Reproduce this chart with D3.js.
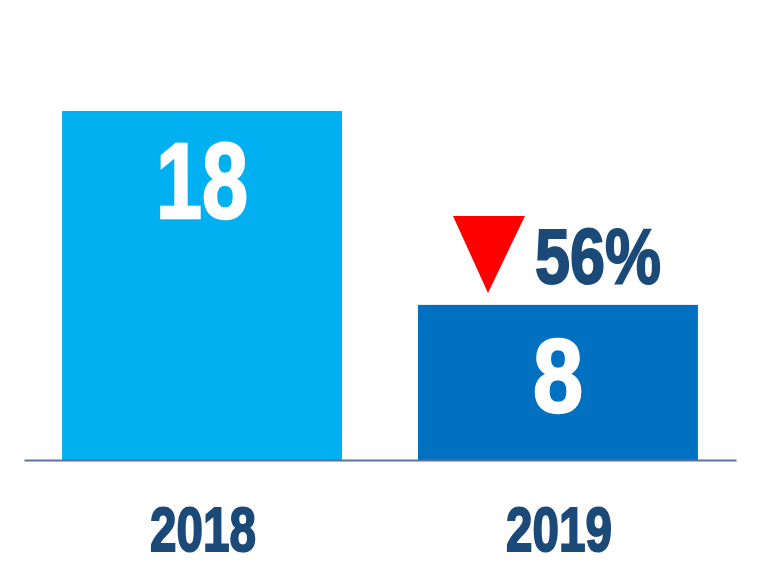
<!DOCTYPE html>
<html><head><meta charset="utf-8">
<script src="https://cdn.jsdelivr.net/npm/d3@7"></script>
<style>html,body{margin:0;padding:0;background:#fff;}svg{display:block;}</style>
</head><body>
<svg id="c" width="768" height="575"></svg>
<script>
const categories = ["2018", "2019"];
const values = [18, 8];
const barColors = ["#00b0f0", "#0070c0"];
const changeLabel = ["56%"];

const svg = d3.select("#c");
const x = d3.scaleBand().domain(categories).range([24, 736]).paddingInner(0.2135).paddingOuter(0.107);
const y = d3.scaleLinear().domain([0, 18]).range([460, 111]);
const font = "'Liberation Sans', Arial, sans-serif";
const navy = "#1b4a78";

svg.selectAll("rect.bar").data(values).enter().append("rect")
  .attr("class", "bar")
  .attr("x", (d, i) => x(categories[i]))
  .attr("width", x.bandwidth())
  .attr("y", d => y(d))
  .attr("height", d => y(0) - y(d))
  .attr("fill", (d, i) => barColors[i]);

// baseline axis
const axis = d3.axisBottom(x).tickSize(0).tickFormat("");
const ax = svg.append("g").attr("transform", `translate(0,${y(0)})`).call(axis);
ax.select(".domain").attr("stroke", "#5b7399").attr("stroke-width", 2);

// value labels
const valSize = [108, 104];
const valLen = [92, 50];
const valTop = [141, 338];
svg.selectAll("text.val").data(values).enter().append("text")
  .attr("class", "val")
  .attr("x", (d, i) => x(categories[i]) + x.bandwidth() / 2)
  .attr("y", (d, i) => valTop[i] + valSize[i] * 0.716)
  .attr("text-anchor", "middle")
  .attr("font-family", font).attr("font-weight", "bold")
  .attr("font-size", (d, i) => valSize[i])
  .attr("textLength", (d, i) => valLen[i]).attr("lengthAdjust", "spacingAndGlyphs")
  .attr("fill", "#fff").attr("stroke", "#fff").attr("stroke-width", 2.5)
  .text(d => d);

// category labels
svg.selectAll("text.cat").data(categories).enter().append("text")
  .attr("class", "cat")
  .attr("x", d => x(d) + x.bandwidth() / 2 + 1)
  .attr("y", 551)
  .attr("text-anchor", "middle")
  .attr("font-family", font).attr("font-weight", "bold")
  .attr("font-size", 63)
  .attr("textLength", 106).attr("lengthAdjust", "spacingAndGlyphs")
  .attr("fill", navy).attr("stroke", navy).attr("stroke-width", 2)
  .text(d => d);

// change indicator
const bx = x(categories[1]);
const tri = [[bx + 35, 216], [bx + 107, 216], [bx + 70, 293]];
svg.append("path").attr("d", d3.line()(tri) + "Z").attr("fill", "#ff0000");
svg.append("text")
  .attr("x", bx + 117).attr("y", 283)
  .attr("font-family", font).attr("font-weight", "bold")
  .attr("font-size", 77)
  .attr("textLength", 126).attr("lengthAdjust", "spacingAndGlyphs")
  .attr("fill", navy).attr("stroke", navy).attr("stroke-width", 2)
  .text(changeLabel[0]);
</script>
</body></html>
